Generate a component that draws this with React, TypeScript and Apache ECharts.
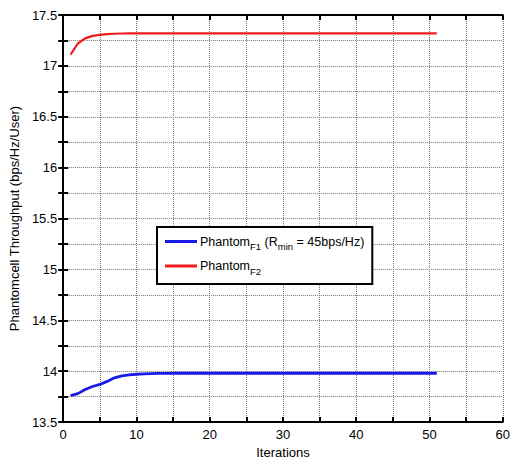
import React, { useEffect, useRef } from "react";
import * as echarts from "echarts";

const iterations = [
  1, 2, 3, 4, 5, 6, 7, 8, 9, 10, 11, 12, 13, 14, 15, 16, 17, 18, 19, 20, 21, 22, 23, 24, 25, 26,
  27, 28, 29, 30, 31, 32, 33, 34, 35, 36, 37, 38, 39, 40, 41, 42, 43, 44, 45, 46, 47, 48, 49, 50, 51,
];

const phantomF1 = [
  13.76, 13.78, 13.82, 13.85, 13.87, 13.9, 13.935, 13.955, 13.965, 13.97, 13.974, 13.976, 13.978,
  13.979, 13.98, 13.98, 13.98, 13.98, 13.98, 13.98, 13.98, 13.98, 13.98, 13.98, 13.98, 13.98,
  13.98, 13.98, 13.98, 13.98, 13.98, 13.98, 13.98, 13.98, 13.98, 13.98, 13.98, 13.98, 13.98,
  13.98, 13.98, 13.98, 13.98, 13.98, 13.98, 13.98, 13.98, 13.98, 13.98, 13.98, 13.98,
];

const phantomF2 = [
  17.11, 17.22, 17.27, 17.295, 17.305, 17.312, 17.316, 17.318, 17.32, 17.32, 17.32, 17.32, 17.32,
  17.32, 17.32, 17.32, 17.32, 17.32, 17.32, 17.32, 17.32, 17.32, 17.32, 17.32, 17.32, 17.32,
  17.32, 17.32, 17.32, 17.32, 17.32, 17.32, 17.32, 17.32, 17.32, 17.32, 17.32, 17.32, 17.32,
  17.32, 17.32, 17.32, 17.32, 17.32, 17.32, 17.32, 17.32, 17.32, 17.32, 17.32, 17.32,
];

const xLabels = ["0", "10", "20", "30", "40", "50", "60"];
const yLabels = ["13.5", "14", "14.5", "15", "15.5", "16", "16.5", "17", "17.5"];

const FONT = "Liberation Sans, Arial, sans-serif";

export default function App() {
  const ref = useRef<HTMLDivElement>(null);
  useEffect(() => {
    const chart = echarts.init(ref.current!, null, { renderer: "svg" });
    const gridLine = { show: true, lineStyle: { color: "#777", type: "dotted", width: 1 } };
    const xFmt = (v: number) => (xLabels.includes(String(v)) ? String(v) : "");
    const yFmt = (v: number) => {
      const s = String(Math.round(v * 100) / 100);
      return yLabels.includes(s) ? s : "";
    };
    const axisLine = { show: true, lineStyle: { color: "#000", width: 2 } };
    const tick = { show: true, inside: true, length: 5, lineStyle: { color: "#000", width: 2 } };
    chart.setOption({
      animation: false,
      backgroundColor: "#fff",
      textStyle: { fontFamily: FONT },
      grid: { left: 61, right: 8, top: 15, bottom: 36, containLabel: false },
      legend: {
        show: true,
        left: 157,
        top: 227,
        orient: "vertical",
        backgroundColor: "#fff",
        borderColor: "#000",
        borderWidth: 2,
        borderRadius: 0,
        padding: [8, 8, 8, 8],
        itemGap: 8,
        itemWidth: 32,
        itemHeight: 3,
        icon: "rect",
        textStyle: {
          fontFamily: FONT,
          fontSize: 12.5,
          color: "#000",
          padding: [0, 0, 0, -2],
          rich: {
            m: { fontSize: 12.5, fontFamily: FONT, color: "#000" },
            s: { fontSize: 9.5, fontFamily: FONT, color: "#000", padding: [10, 0, 0, 0] },
          },
        },
        formatter: (name: string) =>
          name === "F1"
            ? "{m|Phantom}{s|F1}{m| (R}{s|min}{m| = 45bps/Hz)}"
            : "{m|Phantom}{s|F2}",
        data: ["F1", "F2"],
      },
      xAxis: [
        {
          type: "value",
          min: 0,
          max: 60,
          interval: 5,
          axisLine,
          axisTick: tick,
          splitLine: gridLine,
          axisLabel: { formatter: xFmt, color: "#000", fontSize: 13, fontFamily: FONT, margin: 6, showMaxLabel: true },
          name: "Iterations",
          nameLocation: "middle",
          nameGap: 22,
          nameTextStyle: { color: "#000", fontSize: 13, fontFamily: FONT },
        },
        {
          type: "value",
          position: "top",
          min: 0,
          max: 60,
          interval: 5,
          axisLine,
          axisTick: tick,
          splitLine: { show: false },
          axisLabel: { show: false },
        },
      ],
      yAxis: [
        {
          type: "value",
          min: 13.5,
          max: 17.5,
          interval: 0.25,
          axisLine,
          axisTick: tick,
          splitLine: gridLine,
          axisLabel: { formatter: yFmt, color: "#000", fontSize: 13, fontFamily: FONT, margin: 6, showMinLabel: true, showMaxLabel: true },
          name: "Phantomcell Throughput (bps/Hz/User)",
          nameLocation: "middle",
          nameGap: 37,
          nameTextStyle: { color: "#000", fontSize: 13, fontFamily: FONT },
        },
        {
          type: "value",
          position: "right",
          min: 13.5,
          max: 17.5,
          interval: 0.25,
          axisLine,
          axisTick: tick,
          splitLine: { show: false },
          axisLabel: { show: false },
        },
      ],
      series: [
        {
          name: "F1",
          type: "line",
          data: iterations.map((x, i) => [x, phantomF1[i]]),
          showSymbol: false,
          symbol: "none",
          color: "#1a1ae6",
          lineStyle: { color: "#1a1ae6", width: 2.8 },
        },
        {
          name: "F2",
          type: "line",
          data: iterations.map((x, i) => [x, phantomF2[i]]),
          showSymbol: false,
          symbol: "none",
          color: "#ee1c1c",
          lineStyle: { color: "#ee1c1c", width: 2.2 },
        },
      ],
    });
    return () => chart.dispose();
  }, []);
  return <div ref={ref} style={{ width: 513, height: 464, position: "absolute", left: 0, top: 0 }} />;
}
